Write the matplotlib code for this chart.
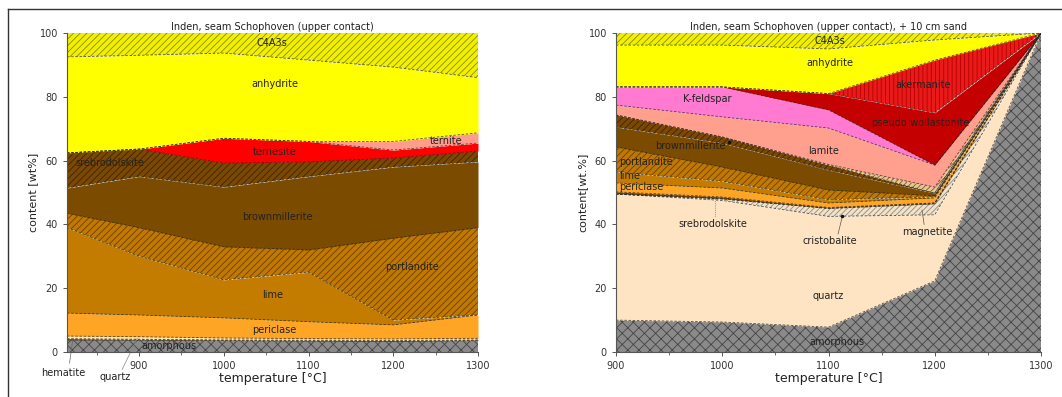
import numpy as np
import matplotlib
matplotlib.use("Agg")
import matplotlib.pyplot as plt
from matplotlib.ticker import MultipleLocator
from matplotlib.lines import Line2D

plt.rcParams['font.family'] = ['DejaVu Sans']
plt.rcParams['hatch.linewidth'] = 0.6

# ---------------- left chart data (wt%, layer thickness) ----------------
L_TEMP = [815, 900, 1000, 1100, 1200, 1300]
L_amorphous      = [3.8, 3.8, 3.6, 3.5, 3.4, 3.6]
L_hematite       = [0.4, 0.2, 0.2, 0.2, 0.2, 0.2]
L_quartz         = [0.8, 0.8, 0.6, 0.5, 0.5, 0.5]
L_periclase      = [7.2, 6.8, 6.3, 5.3, 4.4, 7.3]
L_lime           = [26.8, 18.4, 11.9, 15.5, 1.5, 0.0]
L_portlandite    = [4.5, 9.0, 10.4, 7.0, 25.7, 27.4]
L_brownmillerite = [7.9, 16.0, 18.7, 23.0, 22.3, 20.6]
L_srebrodolskite = [11.0, 8.6, 7.5, 4.6, 2.8, 3.4]
L_ternesite      = [0.0, 0.0, 7.8, 6.4, 2.5, 2.5]
L_ternite        = [0.0, 0.0, 0.0, 0.0, 2.7, 3.2]
L_anhydrite      = [30.1, 29.4, 26.7, 25.5, 23.3, 17.3]
L_C4A3s          = [7.5, 7.0, 6.3, 8.5, 10.7, 14.0]

# ---------------- right chart data (wt%, layer thickness) ----------------
R_TEMP = [900, 1000, 1100, 1200, 1300]
R_amorphous       = [10.0, 9.4, 7.8, 22.3, 100.0]
R_quartz          = [39.5, 38.1, 34.7, 20.7, 0.0]
R_cristobalite    = [0.0, 0.5, 2.5, 3.5, 0.0]
R_magnetite       = [0.0, 0.0, 0.0, 0.2, 0.0]
R_srebrodolskite  = [0.7, 0.6, 0.3, 0.0, 0.0]
R_periclase       = [2.8, 2.8, 1.4, 1.6, 0.0]
R_lime            = [3.4, 2.1, 1.0, 0.3, 0.0]
R_portlandite     = [7.9, 4.5, 3.1, 0.4, 0.0]
R_brownmillerite  = [6.2, 7.5, 6.2, 0.8, 0.0]
R_brown_hatched   = [3.8, 1.9, 1.5, 0.0, 0.0]
R_minor_phase     = [0.0, 0.0, 0.3, 1.9, 0.0]
R_lamite          = [3.1, 6.3, 11.4, 6.9, 0.0]
R_Kfeldspar       = [5.7, 9.4, 5.7, 0.0, 0.0]
R_pseudowoll      = [0.0, 0.0, 5.1, 16.4, 0.0]
R_akermanite      = [0.0, 0.0, 0.0, 16.5, 0.0]
R_anhydrite       = [13.1, 13.1, 14.0, 6.3, 0.0]
R_C4A3s           = [3.8, 3.8, 5.0, 2.2, 0.0]

# styles: (face, hatch, hatch colour)
S = {
    'amorphous': ('#8a8a8a', 'xxx', '#444444'),
    'hematite': ('#5a3a20', None, None),
    'quartzL': ('#ffe9a8', None, None),
    'quartzR': ('#ffe4c4', None, None),
    'cristobalite': ('#f3e2c4', '//////', '#8a8a8a'),
    'magnetite': ('#303030', None, None),
    'periclase': ('#ffa526', None, None),
    'lime': ('#c47c00', None, None),
    'portlandite': ('#c07800', '/////', '#6a4000'),
    'brownmillerite': ('#7b4b00', None, None),
    'srebrodolskite': ('#7a4800', '/////', '#3e2400'),
    'minor': ('#e6c890', '//////', '#7a5a30'),
    'ternesite': ('#ff0000', None, None),
    'ternite': ('#ff9c8c', None, None),
    'lamite': ('#ffa08e', None, None),
    'Kfeldspar': ('#ff7ad0', None, None),
    'pseudowoll': ('#c40000', None, None),
    'akermanite': ('#e81a1a', '||||', '#b80000'),
    'anhydrite': ('#ffff00', None, None),
    'C4A3s': ('#f2f000', '/////', '#8a8a00'),
}

fig = plt.figure(figsize=(10.62, 3.97), dpi=100)
W, H = 1062, 397


def px_axes(l, t, r, b):
    return fig.add_axes([l / W, (H - b) / H, (r - l) / W, (b - t) / H])


def stack(ax, x, layers):
    base = np.zeros(len(x))
    tops = []
    for vals, key in layers:
        top = base + np.array(vals, dtype=float)
        face, hatch, hc = S[key]
        ax.fill_between(x, base, top, facecolor=face, hatch=hatch,
                        edgecolor=hc if hatch else face, linewidth=0)
        tops.append(top)
        base = top
    for top in tops[:-1]:
        ax.plot(x, top, color='#2a2a2a', lw=0.6, ls=(0, (3, 2)), alpha=0.8)


def style_axes(ax, xlim, ylabel):
    ax.set_xlim(*xlim)
    ax.set_ylim(0, 100)
    ax.set_xticks([900, 1000, 1100, 1200, 1300])
    ax.xaxis.set_minor_locator(MultipleLocator(50))
    ax.set_yticks([0, 20, 40, 60, 80, 100])
    for s in ['top', 'right']:
        ax.spines[s].set_visible(False)
    for s in ['left', 'bottom']:
        ax.spines[s].set_color('#555555')
        ax.spines[s].set_linewidth(0.8)
    ax.tick_params(axis='both', which='major', labelsize=7, colors='#555555',
                   length=3, width=0.7, labelcolor='#333333')
    ax.tick_params(axis='x', which='minor', length=2, width=0.6, colors='#555555')
    ax.set_xlabel('temperature [°C]', fontsize=9, color='#222222', labelpad=1)
    ax.set_ylabel(ylabel, fontsize=8, color='#222222', labelpad=1)


# ---------------- left axes ----------------
axL = px_axes(67, 33, 478, 352)
stack(axL, L_TEMP, [
    (L_amorphous, 'amorphous'), (L_hematite, 'hematite'), (L_quartz, 'quartzL'),
    (L_periclase, 'periclase'), (L_lime, 'lime'), (L_portlandite, 'portlandite'),
    (L_brownmillerite, 'brownmillerite'), (L_srebrodolskite, 'srebrodolskite'),
    (L_ternesite, 'ternesite'), (L_ternite, 'ternite'), (L_anhydrite, 'anhydrite'),
    (L_C4A3s, 'C4A3s')])
style_axes(axL, (815, 1300), 'content [wt%]')
axL.set_title('Inden, seam Schophoven (upper contact)', fontsize=7, pad=2, color='#222222')
fs = 7
tk = dict(fontsize=fs, ha='center', va='center', color='#222222')
axL.text(1057, 96.9, 'C4A3s', **tk)
axL.text(1060, 84, 'anhydrite', **tk)
axL.text(1060, 62.6, 'ternesite', **tk)
axL.text(1262, 66.0, 'ternite', **tk)
axL.text(865, 59.3, 'srebrodolskite', **tk)
axL.text(1063, 42.2, 'brownmillerite', **tk)
axL.text(1222, 26.7, 'portlandite', **tk)
axL.text(1058, 17.9, 'lime', **tk)
axL.text(1060, 6.9, 'periclase', **tk)
axL.text(935, 1.9, 'amorphous', **tk)
axL.text(810, -6.6, 'hematite', clip_on=False, **tk)
axL.text(872, -7.9, 'quartz', clip_on=False, **tk)
axL.plot([818, 822], [-3.5, 4.3], color='#666666', lw=0.5, clip_on=False)
axL.plot([880, 898], [-5.5, 4.3], color='#888888', lw=0.5, clip_on=False)

# ---------------- right axes ----------------
axR = px_axes(616, 33, 1041, 352)
stack(axR, R_TEMP, [
    (R_amorphous, 'amorphous'), (R_quartz, 'quartzR'), (R_cristobalite, 'cristobalite'),
    (R_magnetite, 'magnetite'), (R_srebrodolskite, 'srebrodolskite'),
    (R_periclase, 'periclase'), (R_lime, 'lime'), (R_portlandite, 'portlandite'),
    (R_brownmillerite, 'brownmillerite'), (R_brown_hatched, 'srebrodolskite'),
    (R_minor_phase, 'minor'), (R_lamite, 'lamite'), (R_Kfeldspar, 'Kfeldspar'),
    (R_pseudowoll, 'pseudowoll'), (R_akermanite, 'akermanite'),
    (R_anhydrite, 'anhydrite'), (R_C4A3s, 'C4A3s')])
style_axes(axR, (900, 1300), 'content[wt.%]')
axR.set_title('Inden, seam Schophoven (upper contact), + 10 cm sand', fontsize=7,
              pad=2, color='#222222')
axR.text(1101, 97.6, 'C4A3s', **tk)
axR.text(1101, 90.6, 'anhydrite', **tk)
axR.text(1189, 83.7, 'akermanite', **tk)
axR.text(986, 79.3, 'K-feldspar', **tk)
axR.text(1186, 71.8, 'pseudo-wollastonite', **tk)
axR.text(1095, 63.0, 'lamite', **tk)
axR.text(970, 64.6, 'brownmillerite', **tk)
axR.text(903, 59.6, 'portlandite', fontsize=fs, ha='left', va='center', color='#222222')
axR.text(903, 55.2, 'lime', fontsize=fs, ha='left', va='center', color='#222222')
axR.text(903, 51.6, 'periclase', fontsize=fs, ha='left', va='center', color='#222222')
axR.text(991, 40.0, 'srebrodolskite', **tk)
axR.text(1101, 34.8, 'cristobalite', **tk)
axR.text(1193, 37.6, 'magnetite', **tk)
axR.text(1100, 17.5, 'quartz', **tk)
axR.text(1108, 3.0, 'amorphous', **tk)
axR.plot([993, 993], [42.5, 48.8], color='#555555', lw=0.5, ls=':')
axR.plot([1109, 1113], [37.0, 42.5], color='#555555', lw=0.5)
axR.plot([1113], [42.5], marker='o', ms=1.5, color='#111111')
axR.plot([1190, 1188], [40.0, 44.5], color='#555555', lw=0.5)
axR.plot([1006], [65.7], marker='o', ms=1.5, color='#111111')

# figure frame
fig.add_artist(Line2D([8 / W, 1.0], [1 - 9 / H, 1 - 9 / H], color='#333333', lw=1.0))
fig.add_artist(Line2D([8 / W, 8 / W], [0, 1 - 9 / H], color='#333333', lw=1.0))

fig.savefig('out.png', dpi=100)
